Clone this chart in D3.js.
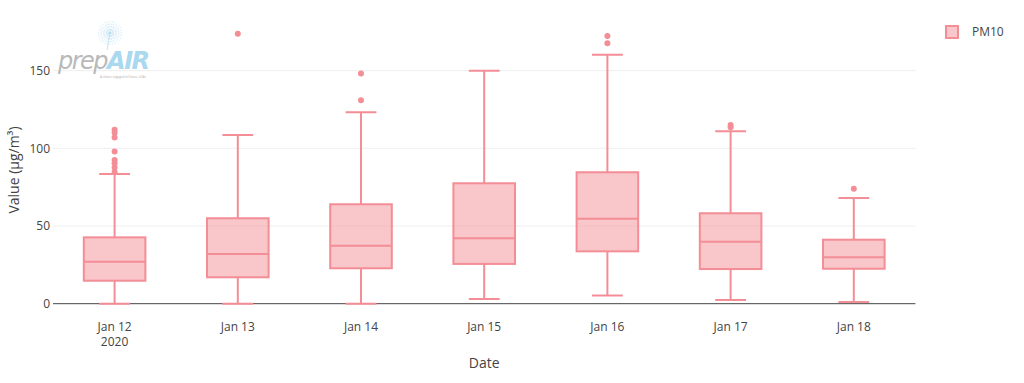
<!DOCTYPE html>
<html>
<head>
<meta charset="utf-8">
<script src="https://cdn.jsdelivr.net/npm/d3@7"></script>
<style>
  html, body { margin: 0; padding: 0; background: #fff; }
  svg { display: block; font-family: "Open Sans", Verdana, Arial, sans-serif; }
</style>
</head>
<body>
<div id="chart"></div>
<script>
// data
const dates = ['Jan 12', 'Jan 13', 'Jan 14', 'Jan 15', 'Jan 16', 'Jan 17', 'Jan 18'];
const lowerFence = [0, 0, 0, 3.0, 5.2, 2.4, 1.1];
const q1 = [14.8, 17.0, 22.8, 25.6, 33.7, 22.3, 22.5];
const median = [27.0, 32.0, 37.3, 42.1, 54.7, 39.9, 29.9];
const q3 = [42.7, 55.0, 64.0, 77.5, 84.6, 58.2, 41.2];
const upperFence = [83.5, 108.6, 123.2, 150.0, 160.3, 111.0, 68.0];
const outliers = [
    [112, 110, 107, 98, 92.5, 90.4, 87.6, 84.8],
    [173.8],
    [148.1, 130.9],
    [],
    [172.3, 167.6],
    [115, 113.5],
    [74]
];
const yTicks = [0, 50, 100, 150];
const seriesName = 'PM10';

const width = 1024, height = 383;
const margin = { top: 20, right: 108.6, bottom: 79.3, left: 53 };
const lineColor = '#f38d96';

const svg = d3.select('#chart').append('svg')
    .attr('width', width)
    .attr('height', height);

const xScale = d3.scaleBand()
    .domain(dates)
    .range([margin.left, width - margin.right]);

const yScale = d3.scaleLinear()
    .domain([0, 182.6])
    .range([height - margin.bottom, margin.top]);

// gridlines
svg.append('g')
    .selectAll('line')
    .data(yTicks.filter(d => d !== 0))
    .join('line')
    .attr('x1', margin.left)
    .attr('x2', width - margin.right)
    .attr('y1', d => yScale(d))
    .attr('y2', d => yScale(d))
    .attr('stroke', '#eee')
    .attr('stroke-width', 1);

// logo (watermark)
const logo = svg.append('g');
const cx = 110, cy = 33;
d3.range(28).forEach(i => {
    const a = i / 28 * Math.PI * 2;
    logo.append('line')
        .attr('x1', cx).attr('y1', cy)
        .attr('x2', cx + Math.cos(a) * 12).attr('y2', cy + Math.sin(a) * 12)
        .attr('stroke', '#b8dcef').attr('stroke-width', 0.7)
        .attr('stroke-dasharray', '1.5,1.2');
});
logo.append('line')
    .attr('x1', cx).attr('y1', cy).attr('x2', cx - 3).attr('y2', 50)
    .attr('stroke', '#b8dcef').attr('stroke-width', 0.8);
const logoText = logo.append('text')
    .attr('x', 58).attr('y', 69)
    .attr('font-family', 'Verdana, "DejaVu Sans", sans-serif')
    .attr('font-style', 'italic')
    .attr('font-size', 24)
    .attr('letter-spacing', -1.5);
logoText.append('tspan').attr('fill', '#b9b9b9').text('prep');
logoText.append('tspan').attr('fill', '#a9d8ef').attr('font-weight', 'bold').text('AIR');
logo.append('text')
    .attr('x', 100).attr('y', 78)
    .attr('font-size', 3)
    .attr('fill', '#aaa')
    .text('A citizen engaged in Future of Air');

// zero line
svg.append('line')
    .attr('x1', margin.left)
    .attr('x2', width - margin.right)
    .attr('y1', yScale(0))
    .attr('y2', yScale(0))
    .attr('stroke', '#444')
    .attr('stroke-width', 1);

// y tick labels
svg.append('g')
    .selectAll('text')
    .data(yTicks)
    .join('text')
    .attr('x', margin.left - 3)
    .attr('y', d => yScale(d))
    .attr('dy', '0.35em')
    .attr('text-anchor', 'end')
    .attr('font-size', 12)
    .attr('fill', '#444')
    .text(d => d);

// x tick labels
const xLabels = svg.append('g')
    .selectAll('text')
    .data(dates)
    .join('text')
    .attr('x', d => xScale(d) + xScale.bandwidth() / 2)
    .attr('y', 331)
    .attr('text-anchor', 'middle')
    .attr('font-size', 12)
    .attr('fill', '#444');
xLabels.append('tspan').text(d => d);
xLabels.filter((d, i) => i === 0)
    .append('tspan')
    .attr('x', d => xScale(d) + xScale.bandwidth() / 2)
    .attr('dy', 15)
    .text('2020');

// axis titles
svg.append('text')
    .attr('x', (margin.left + width - margin.right) / 2)
    .attr('y', 368)
    .attr('text-anchor', 'middle')
    .attr('font-size', 14)
    .attr('fill', '#444')
    .text('Date');

svg.append('text')
    .attr('transform', 'translate(19,170) rotate(-90)')
    .attr('text-anchor', 'middle')
    .attr('font-size', 14)
    .attr('fill', '#444')
    .text('Value (μg/m³)');

// boxes
const boxData = dates.map((d, i) => ({
    date: d,
    lo: lowerFence[i], q1: q1[i], med: median[i], q3: q3[i], hi: upperFence[i],
    out: outliers[i]
}));

const boxW = xScale.bandwidth() * 0.5;
const capW = boxW * 0.5;

const boxes = svg.append('g')
    .selectAll('g')
    .data(boxData)
    .join('g')
    .attr('transform', d => `translate(${xScale(d.date) + xScale.bandwidth() / 2},0)`);

// whiskers
boxes.append('path')
    .attr('fill', 'none')
    .attr('stroke', lineColor)
    .attr('stroke-width', 2)
    .attr('d', d => `M0,${yScale(d.q3)}V${yScale(d.hi)}M${-capW / 2},${yScale(d.hi)}H${capW / 2}` +
        `M0,${yScale(d.q1)}V${yScale(d.lo)}M${-capW / 2},${yScale(d.lo)}H${capW / 2}`);

boxes.append('rect')
    .attr('x', -boxW / 2)
    .attr('width', boxW)
    .attr('y', d => yScale(d.q3))
    .attr('height', d => yScale(d.q1) - yScale(d.q3))
    .attr('fill', lineColor)
    .attr('fill-opacity', 0.5)
    .attr('stroke', lineColor)
    .attr('stroke-width', 2);

boxes.append('line')
    .attr('x1', -boxW / 2)
    .attr('x2', boxW / 2)
    .attr('y1', d => yScale(d.med))
    .attr('y2', d => yScale(d.med))
    .attr('stroke', lineColor)
    .attr('stroke-width', 2);

boxes.selectAll('circle')
    .data(d => d.out)
    .join('circle')
    .attr('cx', 0)
    .attr('cy', d => yScale(d))
    .attr('r', 3)
    .attr('fill', lineColor);

// legend
const legend = svg.append('g').attr('transform', 'translate(946,26)');
legend.append('rect')
    .attr('width', 12)
    .attr('height', 12)
    .attr('fill', lineColor)
    .attr('fill-opacity', 0.5)
    .attr('stroke', lineColor)
    .attr('stroke-width', 2);
legend.append('text')
    .attr('x', 26)
    .attr('y', 6)
    .attr('dy', '0.35em')
    .attr('font-size', 12)
    .attr('fill', '#444')
    .text(seriesName);
</script>
</body>
</html>
